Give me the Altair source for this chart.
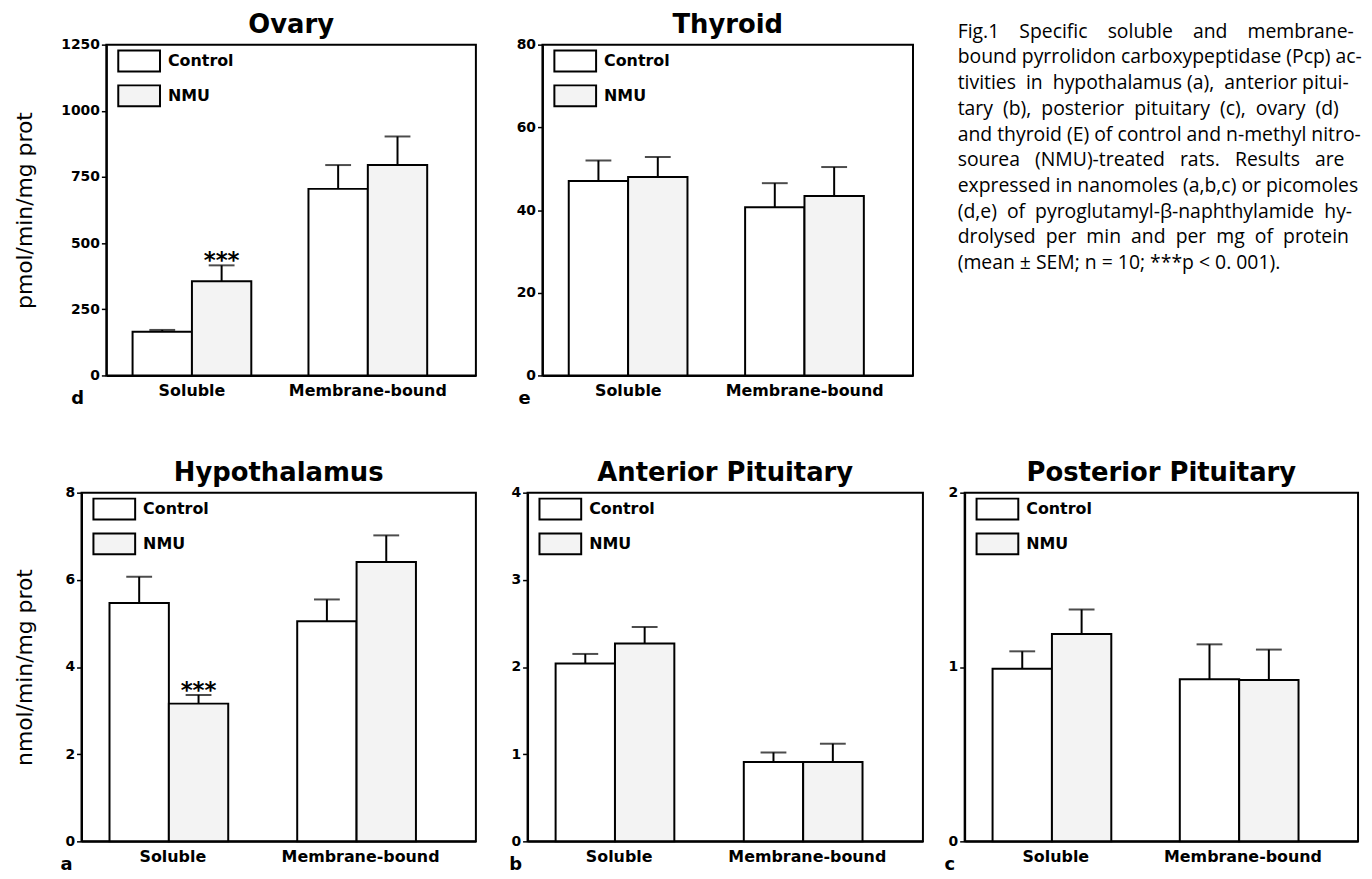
import altair as alt
import pandas as pd

categories = ["Soluble", "Membrane-bound"]
groups = ["Control", "NMU"]

# order: Soluble-Control, Soluble-NMU, Membrane-Control, Membrane-NMU
ovary_mean = [165, 356, 705, 795]
ovary_sem = [7, 60, 90, 108]
ovary_sig = [False, True, False, False]

thyroid_mean = [47.0, 48.0, 40.7, 43.4]
thyroid_sem = [5.0, 4.8, 5.8, 7.0]
thyroid_sig = [False, False, False, False]

hypo_mean = [5.47, 3.16, 5.05, 6.41]
hypo_sem = [0.60, 0.20, 0.50, 0.61]
hypo_sig = [False, True, False, False]

ant_mean = [2.04, 2.27, 0.91, 0.91]
ant_sem = [0.11, 0.19, 0.11, 0.21]
ant_sig = [False, False, False, False]

post_mean = [0.99, 1.19, 0.93, 0.925]
post_sem = [0.10, 0.14, 0.20, 0.175]
post_sig = [False, False, False, False]

N = "\u00a0"  # non-breaking space, used to imitate the justified caption
caption_lines = [
    "Fig.1" + N * 3 + " Specific" + N * 3 + " soluble" + N * 3 + " and" + N * 3 + " membrane-",
    "bound pyrrolidon carboxypeptidase (Pcp) ac-",
    "tivities" + N + " in" + N + " hypothalamus (a)," + N + " anterior pitui-",
    "tary" + N + " (b)," + N + " posterior" + N + " pituitary" + N + " (c)," + N + " ovary" + N + " (d)",
    "and thyroid (E) of control and n-methyl nitro-",
    "sourea" + N * 2 + " (NMU)-treated" + N * 2 + " rats." + N * 2 + " Results" + N * 2 + " are",
    "expressed in nanomoles (a,b,c) or picomoles",
    "(d,e)" + N + " of" + N + " pyroglutamyl-β-naphthylamide" + N + " hy-",
    "drolysed" + N + " per" + N + " min" + N + " and" + N + " per" + N + " mg"
    + N + " of" + N + " protein",
    "(mean ± SEM; n = 10; ***p < 0. 001).",
]

BOLD_FONT = "DejaVu Sans"


def panel(title, mean, sem, sig, ticks, ymax, ytitle, title_x, letter, letter_dx,
          width, height):
    df = pd.DataFrame({
        "category": [c for c in categories for g in groups],
        "group": [g for c in categories for g in groups],
        "mean": mean,
        "sem": sem,
        "sig": sig,
    })
    base = alt.Chart(df).transform_calculate(upper="datum.mean + datum.sem")
    x = alt.X("category:N", sort=categories,
              scale=alt.Scale(paddingInner=0.325, paddingOuter=0.213, align=0.35),
              axis=alt.Axis(title=None, labelAngle=0, ticks=False,
                            labelFont=BOLD_FONT, labelFontWeight="bold",
                            labelFontSize=16, labelPadding=7, labelColor="black",
                            domainColor="black", domainWidth=2))
    xo = alt.XOffset("group:N", sort=groups,
                     scale=alt.Scale(paddingInner=0, paddingOuter=0))
    yaxis_kwargs = dict(values=ticks, labelExpr="'' + datum.value",
                        labelFont=BOLD_FONT,
                        labelFontWeight="bold", labelOverlap=False,
                        labelFontSize=14, labelColor="black", labelPadding=2,
                        tickSize=5, tickWidth=1.5, tickColor="black",
                        domainColor="black", domainWidth=2, grid=False)
    if ytitle:
        yaxis_kwargs.update(title=ytitle, titleFont=BOLD_FONT, titleFontWeight="normal",
                            titleFontSize=22, titleColor="black", titleX=title_x,
                            titleY=height / 2, titleAlign="center", titleAngle=270,
                            titleBaseline="bottom")
    else:
        yaxis_kwargs.update(title=None)
    y = alt.Y("mean:Q", scale=alt.Scale(domain=[0, ymax], nice=False),
              axis=alt.Axis(**yaxis_kwargs))
    bars = base.mark_bar(stroke="black", strokeWidth=2).encode(
        x=x, xOffset=xo, y=y,
        fill=alt.Fill("group:N", sort=groups,
                      scale=alt.Scale(domain=groups, range=["white", "#f3f3f3"]),
                      legend=alt.Legend(title=None, orient="none", legendX=11, legendY=5,
                                        symbolType="M-1,-1H3V1H-1Z", symbolSize=441,
                                        symbolStrokeColor="black", symbolStrokeWidth=2,
                                        symbolOpacity=1,
                                        labelFont=BOLD_FONT, labelFontWeight="bold",
                                        labelFontSize=16, labelColor="black",
                                        labelOffset=28, rowPadding=6)),
    )
    rules = base.mark_rule(color="black", strokeWidth=2).encode(
        x=x, xOffset=xo, y="mean:Q", y2="upper:Q")
    caps = base.mark_tick(color="black", thickness=2, size=26).encode(
        x=x, xOffset=xo, y="upper:Q")
    stars = base.transform_filter("datum.sig").mark_text(
        text="***", font=BOLD_FONT, fontWeight="bold", fontSize=23,
        baseline="alphabetic", dy=3, color="black").encode(
        x=x, xOffset=xo, y="upper:Q")
    letter_mark = alt.Chart(pd.DataFrame({"letter": [letter]})).mark_text(
        font=BOLD_FONT, fontWeight="bold", fontSize=18, baseline="middle",
        align="center", color="black").encode(
        text="letter:N", x=alt.value(letter_dx), y=alt.value(height + 24))
    return alt.layer(bars, rules, caps, stars, letter_mark).properties(
        width=width, height=height,
        title=alt.TitleParams(title, font=BOLD_FONT, fontSize=26, fontWeight="bold",
                              color="black", offset=0, anchor="middle"),
    ).resolve_scale(fill="independent")


ovary = panel("Ovary", ovary_mean, ovary_sem, ovary_sig,
              [0, 250, 500, 750, 1000, 1250], 1250, "pmol/min/mg prot", -70,
              "d", -29, 372, 333)
thyroid = panel("Thyroid", thyroid_mean, thyroid_sem, thyroid_sig,
                [0, 20, 40, 60, 80], 80, None, 0, "e", -18, 373, 333)
hypo = panel("Hypothalamus", hypo_mean, hypo_sem, hypo_sig,
             [0, 2, 4, 6, 8], 8, "nmol/min/mg prot", -45, "a", -15, 397, 351)
ant = panel("Anterior Pituitary", ant_mean, ant_sem, ant_sig,
            [0, 1, 2, 3, 4], 4, None, 0, "b", -12, 398, 351)
post = panel("Posterior Pituitary", post_mean, post_sem, post_sig,
             [0, 1, 2], 2, None, 0, "c", -15, 396, 351)

cap_df = pd.DataFrame({"line": caption_lines, "row": list(range(len(caption_lines)))})
caption = alt.Chart(cap_df).mark_text(
    align="left", baseline="middle", font="Open Sans", fontSize=19.5, color="black"
).encode(
    x=alt.value(0),
    y=alt.Y("row:Q", scale=alt.Scale(domain=[0, 9], range=[-13, 220]), axis=None),
    text="line:N",
).properties(width=390, height=333, view=alt.ViewBackground(stroke="transparent"))

# invisible spacer so that the top row starts 25px to the right of the bottom row
spacer = alt.Chart(pd.DataFrame({"s": [0]})).mark_point(opacity=0).encode(
    x=alt.value(0), y=alt.value(0)
).properties(width=1, height=333, view=alt.ViewBackground(stroke="transparent"))

row1 = alt.hconcat(
    spacer,
    alt.hconcat(
        ovary,
        alt.hconcat(thyroid, caption, spacing=45, bounds="flush")
        .resolve_scale(fill="independent").resolve_legend(fill="independent"),
        spacing=67, bounds="flush",
    ).resolve_scale(fill="independent").resolve_legend(fill="independent"),
    spacing=24, bounds="flush",
).resolve_scale(fill="independent").resolve_legend(fill="independent")

row2 = alt.hconcat(
    hypo,
    alt.hconcat(ant, post, spacing=42, bounds="flush")
    .resolve_scale(fill="independent").resolve_legend(fill="independent"),
    spacing=52, bounds="flush",
).resolve_scale(fill="independent").resolve_legend(fill="independent")

chart = alt.vconcat(row1, row2, spacing=50).resolve_scale(
    fill="independent").resolve_legend(fill="independent").properties(
    padding={"left": 5, "top": 0, "right": 0, "bottom": 0},
    background="white",
).configure_view(stroke="black", strokeWidth=2)

chart.save("out.html", embed_options={"renderer": "svg", "actions": False})
